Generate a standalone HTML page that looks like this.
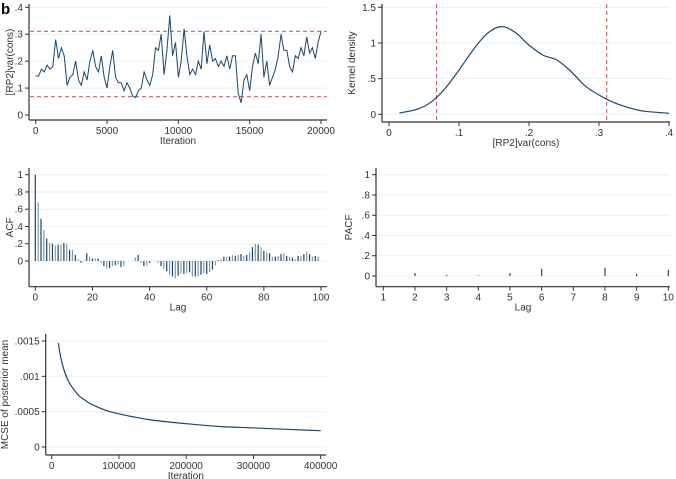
<!DOCTYPE html>
<html><head><meta charset="utf-8"><style>
html,body{margin:0;padding:0;background:#fff;}
svg{display:block;font-family:"Liberation Sans",Arial,sans-serif;}
</style></head><body>
<svg id="fig" width="676" height="479" viewBox="0 0 676 479" xmlns="http://www.w3.org/2000/svg">
<text x="1" y="14" font-size="15" font-weight="bold" fill="#000">b</text>
</svg>
<script>
// ---- data ----
const traceIter = [0,200,400,600,800,1000,1200,1400,1600,1800,2000,2200,2400,2600,2800,3000,3200,3400,3600,3800,4000,4200,4400,4600,4800,5000,5200,5400,5600,5800,6000,6200,6400,6600,6800,7000,7200,7400,7600,7800,8000,8200,8400,8600,8800,9000,9200,9400,9600,9800,10000,10200,10400,10600,10800,11000,11200,11400,11600,11800,12000,12200,12400,12600,12800,13000,13200,13400,13600,13800,14000,14200,14400,14600,14800,15000,15200,15400,15600,15800,16000,16200,16400,16600,16800,17000,17200,17400,17600,17800,18000,18200,18400,18600,18800,19000,19200,19400,19600,19800,20000];
const traceVals = [.145,.145,.17,.16,.185,.17,.18,.28,.21,.25,.22,.11,.14,.15,.2,.13,.11,.16,.13,.2,.24,.18,.16,.22,.14,.1,.18,.24,.14,.12,.12,.09,.12,.1,.07,.065,.09,.1,.16,.13,.11,.15,.25,.24,.3,.15,.24,.37,.22,.27,.14,.2,.32,.22,.15,.17,.15,.2,.17,.31,.19,.26,.2,.21,.18,.2,.18,.22,.17,.22,.22,.08,.045,.13,.15,.09,.18,.23,.19,.3,.14,.2,.11,.14,.17,.22,.3,.24,.24,.18,.16,.22,.21,.25,.22,.29,.23,.25,.21,.27,.31];
const ciBounds = [0.068, 0.311];
const traceYTicks = [0,.1,.2,.3,.4];
const traceYLabels = ["0",".1",".2",".3",".4"];
const traceXTicks = [0,5000,10000,15000,20000];

const densX = [.015,.04,.06,.08,.1,.12,.14,.16,.18,.2,.22,.24,.26,.28,.3,.32,.34,.36,.38,.4];
const densY = [.02,.07,.17,.36,.62,.9,1.13,1.23,1.15,.97,.83,.76,.6,.4,.27,.17,.1,.05,.03,.015];
const densYTicks = [0,.5,1,1.5];
const densYLabels = ["0",".5","1","1.5"];
const densXTicks = [0,.1,.2,.3,.4];
const densXLabels = ["0",".1",".2",".3",".4"];

const acfVals = [1,.68,.49,.36,.26,.21,.2,.18,.19,.19,.21,.2,.13,.13,.07,.02,-.02,.01,.09,.05,.03,.03,.03,-.02,-.06,-.09,-.08,-.06,-.05,-.04,-.07,-.06,0,0,0,.04,.07,-.02,-.06,-.05,-.02,0,0,-.02,-.06,-.09,-.12,-.16,-.18,-.2,-.17,-.15,-.15,-.14,-.13,-.18,-.18,-.18,-.16,-.14,-.15,-.13,-.1,-.05,.01,.02,.05,.05,.05,.07,.06,.07,.08,.06,.07,.1,.16,.2,.19,.16,.12,.1,.09,.05,.05,.06,.08,.09,.06,.05,.04,.02,.06,.06,.08,.11,.08,.05,.06,.05];
const acfYTicks = [0,.2,.4,.6,.8,1];
const acfYLabels = ["0",".2",".4",".6",".8","1"];
const acfXTicks = [0,20,40,60,80,100];

const pacfLags = [2,3,4,5,6,7,8,9,10];
const pacfVals = [.03,.01,.005,.03,.07,0,.08,.02,.06];
const pacfYTicks = [0,.2,.4,.6,.8,1];
const pacfYLabels = ["0",".2",".4",".6",".8","1"];
const pacfXTicks = [1,2,3,4,5,6,7,8,9,10];

const mcseIter = [10000,12000,15000,20000,25000,30000,40000,50000,60000,80000,100000,125000,150000,200000,250000,300000,350000,400000];
const mcseVals = [.00147,.00134,.0012,.00104,.00093,.00085,.00073,.00066,.0006,.00052,.00047,.00042,.00038,.00033,.00029,.00027,.00025,.00023];
const mcseYTicks = [0,.0005,.001,.0015];
const mcseYLabels = ["0",".0005",".001",".0015"];
const mcseXTicks = [0,100000,200000,300000,400000];

// ---- helpers ----
const NS = "http://www.w3.org/2000/svg";
const svg = document.getElementById('fig');
const NAVY = "#1a476f", GRID = "#e6eff1", AX = "#333", RED = "#c0504d";
function mk(tag, attrs, parent){const e=document.createElementNS(NS,tag);for(const k in attrs)e.setAttribute(k,attrs[k]);(parent||svg).appendChild(e);return e;}
function lin(d0,d1,r0,r1){return v=>r0+(v-d0)*(r1-r0)/(d1-d0);}
function txt(x,y,s,size,anchor,g,rot){const t=mk('text',{x:x,y:y,'font-size':size,'text-anchor':anchor,fill:AX},g);if(rot)t.setAttribute('transform',`rotate(-90 ${x} ${y})`);t.textContent=s;return t;}
function smooth(pts){
  let d='M'+pts[0][0].toFixed(1)+','+pts[0][1].toFixed(1);
  for(let i=0;i<pts.length-1;i++){
    const p0=pts[Math.max(0,i-1)],p1=pts[i],p2=pts[i+1],p3=pts[Math.min(pts.length-1,i+2)];
    const c1x=p1[0]+(p2[0]-p0[0])/6,c1y=p1[1]+(p2[1]-p0[1])/6;
    const c2x=p2[0]-(p3[0]-p1[0])/6,c2y=p2[1]-(p3[1]-p1[1])/6;
    d+=` C${c1x.toFixed(1)},${c1y.toFixed(1)} ${c2x.toFixed(1)},${c2y.toFixed(1)} ${p2[0].toFixed(1)},${p2[1].toFixed(1)}`;
  }
  return d;
}

function axes(g,o){
  o.yt.forEach((v,i)=>{const y=o.sy(v);
    const gl=mk('line',{x1:o.L+1,x2:o.R,y1:y,y2:y,stroke:GRID,'stroke-width':1},g);
    
    
    mk('line',{x1:o.L-4,x2:o.L,y1:y,y2:y,stroke:AX,'stroke-width':1},g);
    const t=txt(o.L-6,y+3.5,o.yl[i],10,'end',g);
    
    
  });
  o.xt.forEach((v,i)=>{const x=o.sx(v);
    mk('line',{x1:x,x2:x,y1:o.B,y2:o.B+4,stroke:AX,'stroke-width':1},g);
    const t=txt(x,o.B+14,o.xl?o.xl[i]:String(v),10,'middle',g);
    
    
  });
  const ya=mk('line',{x1:o.L,x2:o.L,y1:o.T,y2:o.B,stroke:AX,'stroke-width':1.2},g);
  
  
  const xa=mk('line',{x1:o.L,x2:o.R,y1:o.B,y2:o.B,stroke:AX,'stroke-width':1.2},g);
  
  
  const xt=txt((o.L+o.R)/2,o.B+24,o.xtitle,10,'middle',g);
  
  
  const yt=txt(o.ytx,(o.T+o.B)/2,o.ytitle,10,'middle',g,true);
  
  
}

// ---- panel 1: trace ----
(function(){
  const g=mk('g',{});
  
  
  const sx=lin(0,20000,35.7,321), sy=lin(0,.4,115,7.3);
  axes(g,{L:29,R:327,T:4,B:120,sx,sy,yt:traceYTicks,yl:traceYLabels,xt:traceXTicks,xtitle:'Iteration',ytitle:'[RP2]var(cons)',ytx:13});
  ciBounds.forEach(b=>{const l=mk('line',{x1:30,x2:327,y1:sy(b),y2:sy(b),stroke:RED,'stroke-width':1,'stroke-dasharray':'4,3'},g);
    
    });
  const p=mk('polyline',{points:traceIter.map((t,i)=>sx(t).toFixed(1)+','+sy(traceVals[i]).toFixed(1)).join(' '),fill:'none',stroke:NAVY,'stroke-width':1},g);
  
  
})();

// ---- panel 2: density ----
(function(){
  const g=mk('g',{});
  
  
  const sx=lin(0,.4,389,669), sy=lin(0,1.5,114.3,7.3);
  axes(g,{L:382,R:670,T:4,B:122,sx,sy,yt:densYTicks,yl:densYLabels,xt:densXTicks,xl:densXLabels,xtitle:'[RP2]var(cons)',ytitle:'Kernel density',ytx:355});
  ciBounds.forEach(b=>{const l=mk('line',{x1:sx(b),x2:sx(b),y1:4,y2:121,stroke:RED,'stroke-width':1,'stroke-dasharray':'4,3'},g);
    
    });
  const p=mk('path',{d:smooth(densX.map((x,i)=>[sx(x),sy(densY[i])])),fill:'none',stroke:NAVY,'stroke-width':1.2},g);
  
  
})();

// ---- panel 3: ACF ----
(function(){
  const g=mk('g',{});
  
  
  const sx=lin(0,100,35.3,321), sy=lin(0,1,261,174.7);
  axes(g,{L:29,R:327,T:168,B:286.7,sx,sy,yt:acfYTicks,yl:acfYLabels,xt:acfXTicks,xtitle:'Lag',ytitle:'ACF',ytx:13});
  acfVals.forEach((v,i)=>{const b=mk('line',{x1:sx(i),x2:sx(i),y1:sy(0),y2:sy(v),stroke:i%2?'#7f98b0':NAVY,'stroke-width':1.2},g);
    
    });
})();

// ---- panel 4: PACF ----
(function(){
  const g=mk('g',{});
  
  
  const sx=lin(1,10,383.3,668.3), sy=lin(0,1,276,174.7);
  axes(g,{L:376,R:670,T:168,B:286.7,sx,sy,yt:pacfYTicks,yl:pacfYLabels,xt:pacfXTicks,xtitle:'Lag',ytitle:'PACF',ytx:352});
  pacfLags.forEach((l,i)=>{const b=mk('line',{x1:sx(l),x2:sx(l),y1:sy(0),y2:sy(pacfVals[i]),stroke:NAVY,'stroke-width':1.2},g);
    
    });
})();

// ---- panel 5: MCSE ----
(function(){
  const g=mk('g',{});
  
  
  const sx=lin(0,400000,51.7,320.7), sy=lin(0,.0015,447,341);
  axes(g,{L:45.7,R:326,T:334,B:455,sx,sy,yt:mcseYTicks,yl:mcseYLabels,xt:mcseXTicks,xtitle:'Iteration',ytitle:'MCSE of posterior mean',ytx:8});
  const p=mk('path',{d:smooth(mcseIter.map((x,i)=>[sx(x),sy(mcseVals[i])])),fill:'none',stroke:NAVY,'stroke-width':1.2},g);
  
  
})();
</script>
</body></html>
